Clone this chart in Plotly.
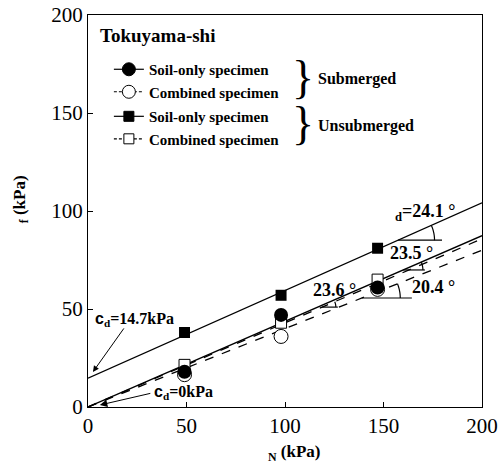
import math
import numpy as np
import plotly.graph_objects as go

# ---- data ----
normal_stress = [49, 98, 147]                 # sigma_N (kPa)
sub_soil = [18, 47, 61]                       # submerged, soil-only
sub_comb = [16.5, 36, 60]                     # submerged, combined
uns_soil = [38, 57, 81]                       # unsubmerged, soil-only
uns_comb = [21.5, 43, 65]                     # unsubmerged, combined

# fitted strength lines (intercept, slope)
fit_sub_soil = (0.0, 0.437)
fit_sub_comb = (0.0, 0.400)
fit_uns_soil = (14.7, math.tan(math.radians(24.1)))
fit_uns_comb = (0.0, 0.429)
line_x = [0, 200]

tick_vals = [0, 50, 100, 150, 200]

SERIF = "Liberation Serif"
fig = go.Figure()

def fit_trace(fit, dash):
    a, b = fit
    return go.Scatter(x=line_x, y=[a + b * x for x in line_x], mode="lines",
                      line=dict(color="black", width=1.3, dash=dash),
                      showlegend=False, hoverinfo="skip")

fig.add_trace(fit_trace(fit_uns_soil, "solid"))
fig.add_trace(fit_trace(fit_sub_comb, "dash"))
fig.add_trace(fit_trace(fit_uns_comb, "dash"))
fig.add_trace(fit_trace(fit_sub_soil, "solid"))

fig.add_trace(go.Scatter(x=normal_stress, y=sub_comb, mode="markers", showlegend=False,
                         marker=dict(symbol="circle", size=14, color="white",
                                     line=dict(color="black", width=1))))
fig.add_trace(go.Scatter(x=normal_stress, y=uns_comb, mode="markers", showlegend=False,
                         marker=dict(symbol="square", size=11, color="white",
                                     line=dict(color="black", width=1))))
fig.add_trace(go.Scatter(x=normal_stress, y=sub_soil, mode="markers", showlegend=False,
                         marker=dict(symbol="circle", size=14, color="black")))
fig.add_trace(go.Scatter(x=normal_stress, y=uns_soil, mode="markers", showlegend=False,
                         marker=dict(symbol="square", size=11, color="black")))

# legend entries
def leg(symbol, fill, size, name, dash, legend):
    return go.Scatter(x=[None], y=[None], mode="markers+lines", name=name,
                      legend=legend,
                      line=dict(color="black", width=1.2, dash=dash),
                      marker=dict(symbol=symbol, size=size, color=fill,
                                  line=dict(color="black", width=1)))

fig.add_trace(leg("circle", "black", 13, "<b>Soil-only specimen</b>", "solid", "legend"))
fig.add_trace(leg("circle", "white", 13, "<b>Combined specimen</b>", "3px,2px", "legend"))
fig.add_trace(leg("square", "black", 10, "<b>Soil-only specimen</b>", "solid", "legend2"))
fig.add_trace(leg("square", "white", 10, "<b>Combined specimen</b>", "3px,2px", "legend2"))

# angle markers
shapes = []
def angle_marker(fit, x0, L, r):
    a, b = fit
    y0 = a + b * x0
    shapes.append(dict(type="line", xref="x", yref="y", x0=x0, y0=y0, x1=x0 + L, y1=y0,
                       line=dict(color="black", width=1.2)))
    th = math.atan(b)
    ts = np.linspace(0, th, 14)
    path = "M " + " L ".join(f"{x0 + r*math.cos(t):.3f},{y0 + r*math.sin(t):.3f}" for t in ts)
    shapes.append(dict(type="path", xref="x", yref="y", path=path,
                       line=dict(color="black", width=1.2)))

angle_marker(fit_uns_soil, 157.4, 22.3, 18.5)
angle_marker(fit_sub_comb, 139.0, 25.4, 19.5)
angle_marker(fit_sub_soil, 160.0, 11.0, 10.0)
angle_marker(fit_uns_comb, 118.8, 8.0, 7.0)

ann = []
def txt(x, y, t, size=17, xanchor="left", **kw):
    d = dict(x=x, y=y, xref="x", yref="y", text=t, showarrow=False, xanchor=xanchor,
             yanchor="middle", font=dict(family=SERIF, size=size, color="black"))
    d.update(kw)
    ann.append(d)

txt(5, 189.5, "<b>Tokuyama-shi</b>", size=19)
txt(109, 168.0, "}", size=46, xanchor="center")
txt(109, 144.5, "}", size=46, xanchor="center")
txt(115.5, 167.5, "<b>Submerged</b>", size=16)
txt(115.5, 143.5, "<b>Unsubmerged</b>", size=16)
txt(154.8, 99, "<b><sub>d</sub>=24.1 °</b>", size=18)
txt(152.3, 78.6, "<b>23.5 °</b>", size=18)
txt(113.2, 59.7, "<b>23.6 °</b>", size=18)
txt(163.5, 61.2, "<b>20.4 °</b>", size=18)
txt(2.5, 44.5, "<b><span style='font-family:Liberation Sans'>c</span><sub>d</sub>=14.7kPa</b>", size=16)
txt(32.5, 7.5, "<b><span style='font-family:Liberation Sans'>c</span><sub>d</sub>=0kPa</b>", size=16)

# arrows
ann.append(dict(x=2.5, y=17.9, xref="x", yref="y", text="", showarrow=True,
                ax=32, ay=-45, arrowhead=2, arrowsize=1.2, arrowwidth=1, arrowcolor="black"))
ann.append(dict(x=6, y=1, xref="x", yref="y", text="", showarrow=True,
                ax=52, ay=-12, arrowhead=2, arrowsize=1.5, arrowwidth=1, arrowcolor="black"))

# axis titles
ann.append(dict(x=0.523, y=-0.117, xref="paper", yref="paper", text="<b><sub>N</sub> (kPa)</b>",
                xanchor="center", yanchor="middle",
                showarrow=False, font=dict(family=SERIF, size=17, color="black")))
ann.append(dict(x=-0.17, y=0.53, xref="paper", yref="paper", text="<b><sub>f</sub> (kPa)</b>",
                xanchor="center", yanchor="middle",
                showarrow=False, textangle=-90, font=dict(family=SERIF, size=17, color="black")))

axis = dict(range=[0, 200], tickvals=tick_vals, ticks="inside", ticklen=5, tickwidth=1,
            tickcolor="black", showline=True, linecolor="black", linewidth=1.3, mirror=True,
            showgrid=False, zeroline=False, automargin=False,
            tickfont=dict(family=SERIF, size=21, color="black"))

leg_common = dict(xanchor="left", yanchor="top", bgcolor="rgba(0,0,0,0)",
                  font=dict(family=SERIF, size=15, color="black"),
                  itemwidth=30)

fig.update_layout(
    width=502, height=466,
    margin=dict(l=88, r=20, t=15, b=59, autoexpand=False),
    paper_bgcolor="white", plot_bgcolor="white",
    xaxis=axis, yaxis=axis,
    shapes=shapes, annotations=ann,
    showlegend=True,
    legend=dict(x=0.053, y=0.903, **leg_common),
    legend2=dict(x=0.053, y=0.783, **leg_common),
)

fig.write_html("out.html", config={"displayModeBar": False},
               post_script="document.body.style.margin='0';document.body.style.overflow='hidden';")
